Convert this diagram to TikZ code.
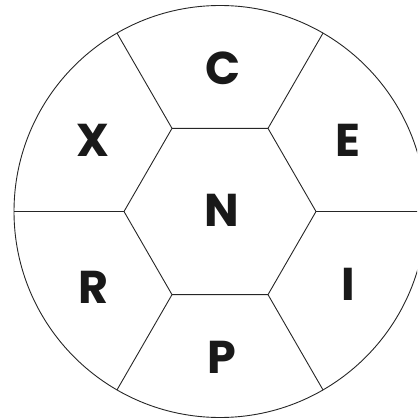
\documentclass[tikz,border=0pt]{standalone}
\usepackage{fontspec}
\usetikzlibrary{calc}
\newfontfamily\letterfont{Poppins}
\begin{document}
\begin{tikzpicture}[x=1pt,y=-1pt,
  line/.style={line width=0.9pt,black!85},
  lbl/.style={font=\letterfont\bfseries\fontsize{46}{46}\selectfont,inner sep=0pt,text=black!90}]
\useasboundingbox (0,0) rectangle (417,419);
\clip (0,0) rectangle (417,419);
\coordinate (O) at (220,211.5);
% hexagon vertices
\foreach \a/\n in {0/h0,60/h1,120/h2,180/h3,240/h4,300/h5}
  \coordinate (\n) at ($(O)+(\a:96)$);
\foreach \a/\n in {0/o0,60/o1,120/o2,180/o3,240/o4,300/o5}
  \coordinate (\n) at ($(O)+(\a:206)$);
\draw[line] (O) circle (206);
\draw[line] (h0)--(h1)--(h2)--(h3)--(h4)--(h5)--cycle;
\foreach \i in {0,...,5} \draw[line] (h\i)--(o\i);
\node[lbl] (C) at (223,68) {C};
\node[lbl] (X) at (93,140) {X};
\node[lbl] (E) at (348,140) {E};
\node[lbl] (N) at (222,210) {N};
\node[lbl] (R) at (93,287) {R};
\node[lbl] (I) at (348,284) {I};
\node[lbl] (P) at (222,357) {P};
\end{tikzpicture}
\end{document}
